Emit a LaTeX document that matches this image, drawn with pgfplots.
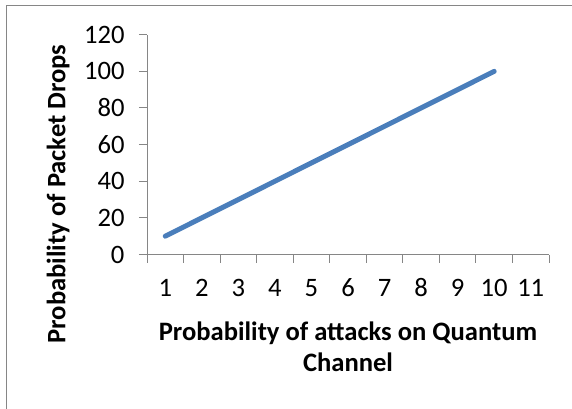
\documentclass[border=0pt]{standalone}
\usepackage{pgfplots}
\pgfplotsset{compat=1.18}
\usepackage{fontspec}
\setmainfont{Carlito}
\definecolor{axisgray}{HTML}{868686}
\definecolor{lineblue}{HTML}{4A7EBB}
\begin{document}
\begin{tikzpicture}
\path[use as bounding box] (0,0) rectangle (572bp,-409bp);
\draw[axisgray, line width=1.5bp] (6.5bp,-430bp) -- (6.5bp,-5.5bp) -- (600bp,-5.5bp);
\begin{axis}[
  at={(147bp,-254.5bp)}, anchor=south west,
  scale only axis,
  width=402bp, height=219.8bp,
  xmin=0.5, xmax=11.5, ymin=0, ymax=120,
  axis x line*=bottom, axis y line*=left,
  axis line style={axisgray, line width=1bp, -},
  xtick={1,...,11},
  minor xtick={0.5,1.5,...,11.5},
  ytick={0,20,...,120},
  tick align=outside,
  major tick length=8bp,
  minor tick length=8bp,
  x tick style={draw=none},
  minor x tick style={draw=axisgray, line width=1bp},
  y tick style={draw=axisgray, line width=1bp},
  /pgf/number format/assume math mode=true,
  tick label style={font=\fontsize{26.7}{30}\selectfont, text=black},
  xticklabel style={yshift=-13bp, text height=17bp, text depth=0bp},
  yticklabel style={xshift=-11bp},
  xlabel={Probability of attacks on Quantum\\Channel},
  ylabel={Probability of Packet Drops},
  xlabel style={at={(rel axis cs:0.5,-0.421)}, anchor=center, align=center, font=\fontsize{26.7}{31}\selectfont\bfseries},
  ylabel style={at={(rel axis cs:-0.221,0.275)}, anchor=center, font=\fontsize{26.7}{31}\selectfont\bfseries},
  clip=false,
]
\addplot[lineblue, line width=5bp, line cap=round] coordinates {
(1,10) (2,20) (3,30) (4,40) (5,50) (6,60) (7,70) (8,80) (9,90) (10,100)
};
\end{axis}
\end{tikzpicture}
\end{document}
